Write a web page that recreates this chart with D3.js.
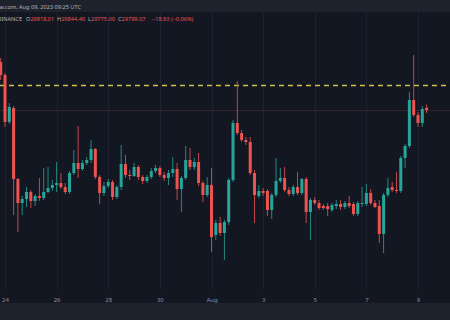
<!DOCTYPE html>
<html>
<head>
  <title>BTCUSDT 4h Candles</title>
  <style>
    body {
      margin: 0;
      background-color: #131722;
      overflow: hidden;
    }

    .info {
      font-family: "Noto Sans", Arial, sans-serif;
      font-size: 5.6px;
    }

    .axis text {
      font-family: "Noto Sans", Arial, sans-serif;
      font-size: 6px;
      fill: #8c8f99;
    }

    .axis path,
    .axis line {
      display: none;
    }
  </style>
</head>
<body>
  <svg id="chart"></svg>

  <script src="https://d3js.org/d3.v7.min.js"></script>
  <script>
    // 4h candles from Jul 23 2023 20:00 UTC
    const startTime = Date.UTC(2023, 6, 23, 20);
    const opens = [30184, 30080, 29704, 29816, 29248, 29056, 29088, 29144, 29072, 29112,
      29096, 29144, 29176, 29200, 29216, 29184, 29144, 29296, 29376, 29328,
      29376, 29400, 29488, 29264, 29136, 29192, 29224, 29104, 29184, 29368,
      29280, 29272, 29344, 29264, 29232, 29264, 29312, 29336, 29280, 29256,
      29296, 29328, 29168, 29256, 29400, 29344, 29384, 29216, 29120, 29200,
      28800, 28896, 28816, 28904, 29240, 29696, 29616, 29560, 29544, 29296,
      29112, 29152, 29152, 29000, 29120, 29232, 29256, 29160, 29128, 29184,
      29136, 29248, 28984, 29080, 29056, 29032, 29032, 29000, 29032, 29048,
      29024, 29056, 29048, 28968, 29048, 29048, 29136, 29056, 29032, 28808,
      29120, 29184, 29160, 29152, 29416, 29512, 29880, 29760, 29696, 29818.01];
    const highs = [30216, 30096, 29856, 29832, 29256, 29112, 29184, 29160, 29128, 29256,
      29336, 29344, 29240, 29384, 29296, 29216, 29312, 29480, 29672, 29400,
      29424, 29560, 29496, 29280, 29224, 29248, 29240, 29200, 29520, 29440,
      29320, 29376, 29360, 29280, 29280, 29336, 29360, 29352, 29304, 29320,
      29424, 29376, 29272, 29512, 29496, 29416, 29456, 29232, 29264, 29336,
      28920, 28944, 28920, 29256, 29720, 30032, 29640, 29584, 29584, 29320,
      29200, 29176, 29168, 29136, 29416, 29336, 29344, 29184, 29200, 29304,
      29256, 29264, 29096, 29104, 29080, 29048, 29056, 29056, 29080, 29080,
      29072, 29112, 29064, 29072, 29184, 29208, 29168, 29080, 29080, 29136,
      29256, 29224, 29304, 29432, 29528, 29944, 30240, 29784, 29832, 29844.40];
    const lows = [30040, 29664, 29688, 28960, 28824, 28960, 29024, 29016, 29032, 29072,
      29080, 29136, 29152, 29144, 29168, 29128, 29128, 29280, 29256, 29312,
      29360, 29376, 29248, 29048, 29112, 29176, 29080, 29088, 29160, 29256,
      29240, 29264, 29240, 29208, 29216, 29248, 29296, 29264, 29232, 29200,
      29264, 29080, 28984, 29240, 29320, 29320, 29192, 29064, 29104, 28664,
      28760, 28792, 28600, 28880, 29224, 29600, 29544, 29520, 29280, 28896,
      29096, 29112, 28952, 28928, 29104, 29216, 29144, 29112, 29112, 29120,
      29120, 28896, 28760, 29040, 29000, 29000, 28952, 28984, 29008, 29000,
      29008, 29016, 28952, 28952, 29024, 29032, 29040, 29016, 28736, 28656,
      29104, 29144, 29136, 29136, 29336, 29496, 29744, 29664, 29664, 29775.00];
    const closes = [30080, 29704, 29824, 29248, 29056, 29088, 29144, 29072, 29112, 29096,
      29144, 29176, 29200, 29216, 29184, 29144, 29296, 29376, 29328, 29376,
      29400, 29488, 29264, 29136, 29192, 29224, 29104, 29184, 29368, 29280,
      29272, 29344, 29264, 29232, 29264, 29312, 29336, 29280, 29256, 29296,
      29328, 29168, 29256, 29400, 29344, 29384, 29216, 29120, 29200, 28784,
      28896, 28816, 28904, 29240, 29696, 29616, 29560, 29544, 29296, 29120,
      29152, 29136, 29000, 29120, 29232, 29256, 29160, 29128, 29184, 29136,
      29248, 28984, 29080, 29056, 29016, 29016, 29008, 29040, 29048, 29024,
      29056, 29032, 28968, 29056, 29056, 29136, 29056, 29024, 28808, 29120,
      29176, 29160, 29152, 29416, 29512, 29880, 29760, 29696, 29808, 29799.07];

    const tickDays = ["2023-07-24", "2023-07-26", "2023-07-28", "2023-07-30", "2023-08-01",
      "2023-08-03", "2023-08-05", "2023-08-07", "2023-08-09"];
    const tickLabels = ["24", "26", "28", "30", "Aug", "3", "5", "7", "9"];
    const alertLevel = 30000;
    const lastChange = -18.93;
    const lastChangePct = -0.06;

    const width = 450;
    const height = 320;
    const plotTop = 12;
    const plotBottom = 290;
    const upColor = "#26a69a";
    const downColor = "#ef5350";

    const candles = opens.map((o, i) => ({
      time: new Date(startTime + i * 4 * 3600 * 1000),
      open: o,
      high: highs[i],
      low: lows[i],
      close: closes[i]
    }));

    const svg = d3.select("#chart")
      .attr("width", width)
      .attr("height", height);

    // Scales (about 25.8 px per day, 8 $ per px)
    const x = d3.scaleUtc()
      .domain([new Date("2023-07-24T00:00Z"), new Date("2023-08-09T00:00Z")])
      .range([5, 418]);

    const y = d3.scaleLinear()
      .domain([28000, 30000])
      .range([335, 85]);

    // Background bands
    svg.append("rect")
      .attr("width", width)
      .attr("height", height)
      .attr("fill", "#131722");

    svg.append("rect")
      .attr("width", width)
      .attr("height", plotTop)
      .attr("fill", "#1e222d");

    svg.append("rect")
      .attr("y", 303)
      .attr("width", width)
      .attr("height", height - 303)
      .attr("fill", "#1e222d");

    // Vertical grid lines
    const tickDates = tickDays.map(d => new Date(d + "T00:00Z"));
    svg.append("g")
      .selectAll("line")
      .data(tickDates)
      .enter()
      .append("line")
      .attr("x1", d => Math.round(x(d)) + 0.5)
      .attr("x2", d => Math.round(x(d)) + 0.5)
      .attr("y1", plotTop)
      .attr("y2", plotBottom)
      .attr("stroke", "#1c2030")
      .attr("stroke-width", 1);

    // Dashed alert line
    svg.append("line")
      .attr("x1", 0)
      .attr("x2", width)
      .attr("y1", y(alertLevel) + 0.5)
      .attr("y2", y(alertLevel) + 0.5)
      .attr("stroke", "#e3d24a")
      .attr("stroke-opacity", 0.9)
      .attr("stroke-width", 1.3)
      .attr("stroke-dasharray", "5,4");

    // Last price line
    const last = candles[candles.length - 1];
    svg.append("line")
      .attr("x1", 0)
      .attr("x2", width)
      .attr("y1", Math.round(y(last.close)) + 0.5)
      .attr("y2", Math.round(y(last.close)) + 0.5)
      .attr("stroke", downColor)
      .attr("stroke-opacity", 0.18)
      .attr("stroke-width", 1);

    // Candles
    const bodyWidth = 3;
    const candle = svg.append("g")
      .selectAll("g")
      .data(candles)
      .enter()
      .append("g");

    candle.append("line")
      .attr("x1", d => x(d.time))
      .attr("x2", d => x(d.time))
      .attr("y1", d => y(d.high))
      .attr("y2", d => y(d.low))
      .attr("stroke", d => d.close >= d.open ? upColor : downColor)
      .attr("stroke-width", 0.8);

    candle.append("rect")
      .attr("x", d => x(d.time) - bodyWidth / 2)
      .attr("y", d => y(Math.max(d.open, d.close)))
      .attr("width", bodyWidth)
      .attr("height", d => Math.max(1, Math.abs(y(d.open) - y(d.close))))
      .attr("fill", d => d.close >= d.open ? upColor : downColor);

    // Time axis
    svg.append("g")
      .attr("class", "axis")
      .attr("transform", `translate(0, ${plotBottom})`)
      .call(d3.axisBottom(x)
        .tickValues(tickDates)
        .tickSize(0)
        .tickPadding(8)
        .tickFormat((d, i) => tickLabels[i]));

    // Header texts (cut at the left edge, as in the screenshot)
    svg.append("text")
      .attr("class", "info")
      .attr("x", 81)
      .attr("y", 8.5)
      .attr("text-anchor", "end")
      .attr("fill", "#b2b5be")
      .text("Published on TradingView.com, Aug 09, 2023 09:25 UTC");

    svg.append("text")
      .attr("class", "info")
      .attr("x", 22)
      .attr("y", 20.5)
      .attr("text-anchor", "end")
      .attr("fill", "#b2b5be")
      .text("Bitcoin / TetherUS, 240, BINANCE");

    const ohlc = [
      { label: "O", value: last.open.toFixed(2), x: 26 },
      { label: "H", value: last.high.toFixed(2), x: 57 },
      { label: "L", value: last.low.toFixed(2), x: 88 },
      { label: "C", value: last.close.toFixed(2), x: 118 }
    ];

    const ohlcText = svg.append("g")
      .selectAll("text")
      .data(ohlc)
      .enter()
      .append("text")
      .attr("class", "info")
      .attr("x", d => d.x)
      .attr("y", 20.5);

    ohlcText.append("tspan")
      .attr("fill", "#b2b5be")
      .text(d => d.label);

    ohlcText.append("tspan")
      .attr("fill", downColor)
      .text(d => d.value);

    svg.append("text")
      .attr("class", "info")
      .attr("x", 152)
      .attr("y", 20.5)
      .attr("fill", downColor)
      .text(`\u2212${Math.abs(lastChange).toFixed(2)} (\u2212${Math.abs(lastChangePct).toFixed(2)}%)`);
  </script>
</body>
</html>
